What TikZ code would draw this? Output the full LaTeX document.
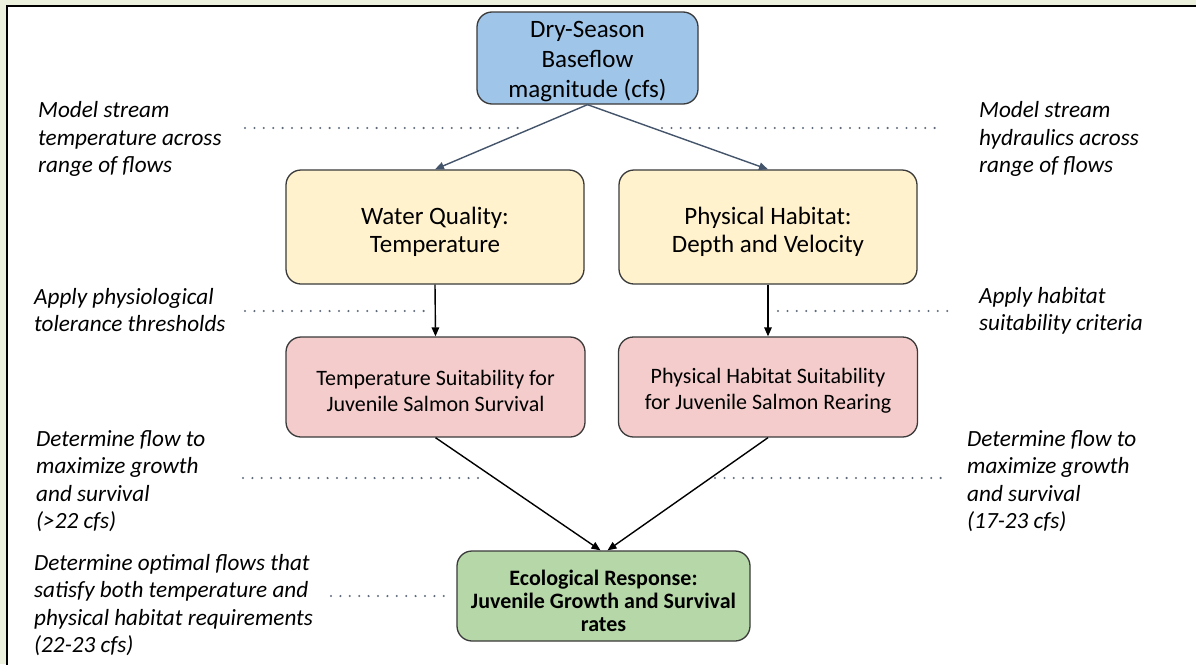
\documentclass[tikz,border=0pt]{standalone}
\usepackage{fontspec}
\setmainfont{Carlito}
\usetikzlibrary{arrows.meta}

\definecolor{pagebg}{HTML}{ECF1DE}
\definecolor{boxline}{HTML}{3A3A3A}
\definecolor{blueFill}{HTML}{9FC5E8}
\definecolor{yellowFill}{HTML}{FFF2CC}
\definecolor{pinkFill}{HTML}{F4CCCC}
\definecolor{greenFill}{HTML}{B6D7A8}
\definecolor{slateArrow}{HTML}{44546A}
\definecolor{dotGray}{HTML}{5F6B7A}

\begin{document}
\begin{tikzpicture}[x=1pt,y=-1pt,
  box/.style={draw=boxline, line width=1.3pt, rounded corners=15pt, inner sep=0pt},
  boxtext/.style={align=center, inner sep=0pt},
  bigtext/.style={boxtext, font=\fontsize{25}{28}\selectfont},
  midtext/.style={boxtext, font=\fontsize{22}{26}\selectfont},
  sidenote/.style={anchor=west, align=left, inner sep=0pt,
    font=\fontsize{23.2}{27.3}\selectfont\itshape},
  flow/.style={line width=1.4pt, -{Triangle[length=9pt,width=7.5pt]}},
  topflow/.style={flow, draw=slateArrow},
  dotline/.style={draw=dotGray, line width=2.3pt, line cap=round,
    dash pattern=on 0pt off 9.4pt}
]
% page and frame (the frame runs on past the right and bottom edges)
\useasboundingbox (0,0) rectangle (1196,664);
\clip (0,0) rectangle (1196,664);
\fill[pagebg] (0,0) rectangle (1196,664);
\filldraw[fill=white, draw=black, line width=2.4pt] (7,6) rectangle (1230,700);

% boxes
\node[box, fill=blueFill, minimum width=221pt, minimum height=92pt] (base) at (587.5,58) {};
\node[box, fill=yellowFill, minimum width=298pt, minimum height=114pt] (wq) at (435,227) {};
\node[box, fill=yellowFill, minimum width=298pt, minimum height=114pt] (ph) at (768,227) {};
\node[box, fill=pinkFill, minimum width=299pt, minimum height=100pt] (ts) at (435.5,387) {};
\node[box, fill=pinkFill, minimum width=299pt, minimum height=100pt] (hs) at (768,387) {};
\node[box, fill=greenFill, minimum width=293pt, minimum height=90pt] (eco) at (603.5,596) {};

% box labels
\node[boxtext, font=\fontsize{25}{30}\selectfont] (baseText) at ([yshift=-4pt]base.center)
  {Dry-Season\\Baseflow\\magnitude (cfs)};
\node[bigtext] (wqText) at ([yshift=-5pt]wq.center) {Water Quality:\\Temperature};
\node[bigtext] (phText) at ([yshift=-5pt]ph.center) {Physical Habitat:\\Depth and Velocity};
\node[midtext] (tsText) at ([yshift=-4pt]ts.center) {Temperature Suitability for\\Juvenile Salmon Survival};
\node[midtext] (hsText) at ([yshift=-4pt]hs.center) {Physical Habitat Suitability\\for Juvenile Salmon Rearing};
\node[boxtext, font=\fontsize{22}{23}\selectfont\bfseries] (ecoText) at ([yshift=-5pt]eco.center)
  {Ecological Response:\\Juvenile Growth and Survival\\rates};

% side notes
\node[sidenote] (n1l) at (38,139) {Model stream\\temperature across\\range of flows};
\node[sidenote] (n1r) at (979,139) {Model stream\\hydraulics across\\range of flows};
\node[sidenote] (n2l) at (34,310) {Apply physiological\\tolerance thresholds};
\node[sidenote] (n2r) at (979,311) {Apply habitat\\suitability criteria};
\node[sidenote] (n3l) at (36,481) {Determine flow to\\maximize growth\\and survival\\(>22 cfs)};
\node[sidenote] (n3r) at (967,481) {Determine flow to\\maximize growth\\and survival\\(17-23 cfs)};
\node[sidenote] (n4l) at (34,605) {Determine optimal flows that\\satisfy both temperature and\\physical habitat requirements\\(22-23 cfs)};

% dotted leader ends
\coordinate (d1a) at (245,128);  \coordinate (d1b) at (518,128);
\coordinate (d1c) at (662,128);  \coordinate (d1d) at (937,128);
\coordinate (d2a) at (245,311);  \coordinate (d2b) at (427,311);
\coordinate (d2c) at (778,311);  \coordinate (d2d) at (950,311);
\coordinate (d3a) at (243,478);  \coordinate (d3b) at (480,478);
\coordinate (d3c) at (715,478);  \coordinate (d3d) at (946,478);
\coordinate (d4a) at (331,596);  \coordinate (d4b) at (452,596);

\draw[dotline] (d1a) -- (d1b);
\draw[dotline] (d1c) -- (d1d);
\draw[dotline] (d2a) -- (d2b);
\draw[dotline] (d2c) -- (d2d);
\draw[dotline] (d3a) -- (d3b);
\draw[dotline] (d3c) -- (d3d);
\draw[dotline] (d4a) -- (d4b);

% connectors
\draw[topflow] (base.south) -- (wq.north);
\draw[topflow] (base.south) -- (ph.north);
\draw[flow] (wq.south) -- (ts.north);
\draw[flow] (ph.south) -- (hs.north);
\draw[flow] (ts.south) -- ([xshift=-3pt]eco.north);
\draw[flow] (hs.south) -- ([xshift=4pt]eco.north);
\end{tikzpicture}
\end{document}
